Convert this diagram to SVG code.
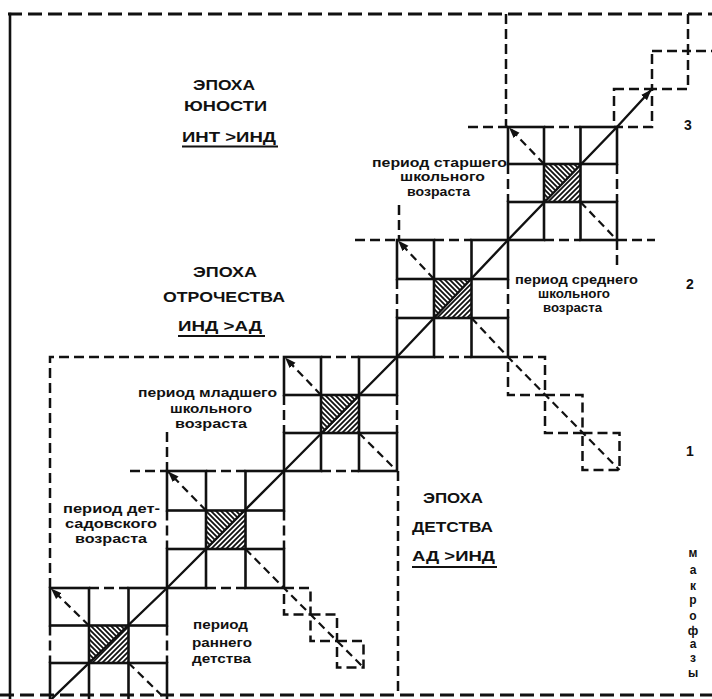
<svg xmlns="http://www.w3.org/2000/svg" width="712" height="699" viewBox="0 0 712 699">
<style>
.s{stroke:#111;stroke-width:2.6;fill:none;stroke-linecap:square}
.d{stroke:#111;stroke-width:2.5;fill:none;stroke-dasharray:10 5}
.dd{stroke:#111;stroke-width:2.2;fill:none;stroke-dasharray:8 5}
.fr{stroke:#111;stroke-width:2.8;fill:none;stroke-dasharray:14 6}
.main{stroke:#111;stroke-width:2.4;fill:none}
.c{fill:#fff}
.ha{fill:url(#hA)}
.hb{fill:url(#hB)}
text{font-family:"Liberation Sans",Arial,sans-serif;font-weight:bold;fill:#111;text-anchor:middle}
.big{font-size:14px}
.sm{font-size:12px}
.vt{font-size:12px}
.u{stroke:#111;stroke-width:2.2}
</style>
<defs>
<pattern id="hA" patternUnits="userSpaceOnUse" width="5" height="5"><path d="M-1,-1 L6,6 M-1,4 L1,6 M4,-1 L6,1" stroke="#111" stroke-width="1.8" fill="none"/></pattern>
<pattern id="hB" patternUnits="userSpaceOnUse" width="5" height="5"><path d="M-1,6 L6,-1 M-1,1 L1,-1 M4,6 L6,4" stroke="#111" stroke-width="1.8" fill="none"/></pattern>
<marker id="ah" markerUnits="userSpaceOnUse" markerWidth="12" markerHeight="10" refX="11" refY="4.5" orient="auto"><path d="M0,0.5 L11,4.5 L0,8.5 z" fill="#111"/></marker>
</defs>
<rect width="712" height="699" fill="#fff"/>

<g id="frame">
<path class="fr" d="M8,14 H712"/>
<path class="s" d="M10,14 V699"/>
<path class="fr" d="M0,695 H712"/>
</g>

<g id="guides">
<path class="d" d="M506,14 V127 M468,127 H508"/>
<path class="d" d="M399,205 V240 M355,240 H397"/>
<path class="d" d="M617,240 H655 M617,240 V268"/>
<path class="d" d="M50,588 V357 H284"/>
<path class="d" d="M167,432 V471 M130,471 H167"/>
<path class="d" d="M398,471 V695"/>
</g>

<g id="block1">
<path class="d" d="M89,588 H128.5 M50,625.5 V663 M167,625.5 V663 M89,700.5 H128.5"/>
<rect class="s" x="50" y="588" width="39" height="37.5"/>
<rect class="s" x="128.5" y="588" width="38.5" height="37.5"/>
<rect class="s" x="50" y="663" width="39" height="37.5"/>
<rect class="s" x="128.5" y="663" width="38.5" height="37.5"/>
<rect class="c" x="89" y="625.5" width="39.5" height="37.5"/>
<polygon class="ha" points="89,625.5 128.5,625.5 89,663"/>
<polygon class="hb" points="128.5,625.5 128.5,663 89,663"/>
<rect class="s" x="89" y="625.5" width="39.5" height="37.5"/>
</g>

<g id="block2">
<path class="d" d="M206,471 H245.5 M167,510.5 V549 M284,510.5 V549 M206,588 H245.5"/>
<rect class="s" x="167" y="471" width="39" height="39.5"/>
<rect class="s" x="245.5" y="471" width="38.5" height="39.5"/>
<rect class="s" x="167" y="549" width="39" height="39"/>
<rect class="s" x="245.5" y="549" width="38.5" height="39"/>
<rect class="c" x="206" y="510.5" width="39.5" height="38.5"/>
<polygon class="ha" points="206,510.5 245.5,510.5 206,549"/>
<polygon class="hb" points="245.5,510.5 245.5,549 206,549"/>
<rect class="s" x="206" y="510.5" width="39.5" height="38.5"/>
<path class="d" d="M284,588 h26.5 v26.5 h-26.5 z M310.5,614.5 h26.5 v26.5 h-26.5 z M337,641 h26.5 v26.5 h-26.5 z"/>
</g>

<g id="block3">
<path class="d" d="M321,357 H359 M284,395 V433 M397,395 V433 M321,471 H359"/>
<rect class="s" x="284" y="357" width="37" height="38"/>
<rect class="s" x="359" y="357" width="38" height="38"/>
<rect class="s" x="284" y="433" width="37" height="38"/>
<rect class="s" x="359" y="433" width="38" height="38"/>
<rect class="c" x="321" y="395" width="38" height="38"/>
<polygon class="ha" points="321,395 359,395 321,433"/>
<polygon class="hb" points="359,395 359,433 321,433"/>
<rect class="s" x="321" y="395" width="38" height="38"/>
</g>

<g id="block4">
<path class="d" d="M434,240 H471.5 M397,279 V318 M508,279 V318 M434,357 H471.5"/>
<rect class="s" x="397" y="240" width="37" height="39"/>
<rect class="s" x="471.5" y="240" width="36.5" height="39"/>
<rect class="s" x="397" y="318" width="37" height="39"/>
<rect class="s" x="471.5" y="318" width="36.5" height="39"/>
<rect class="c" x="434" y="279" width="37.5" height="39"/>
<polygon class="ha" points="434,279 471.5,279 434,318"/>
<polygon class="hb" points="471.5,279 471.5,318 434,318"/>
<rect class="s" x="434" y="279" width="37.5" height="39"/>
<path class="d" d="M508,357 h37 v38 h-37 z M545,395 h37.5 v38 h-37.5 z M582.5,433 h37 v37 h-37 z"/>
</g>

<g id="block5">
<path class="d" d="M544,127 H580.5 M508,164 V202 M617,164 V202 M544,240 H580.5"/>
<rect class="s" x="508" y="127" width="36" height="37"/>
<rect class="s" x="580.5" y="127" width="36.5" height="37"/>
<rect class="s" x="508" y="202" width="36" height="38"/>
<rect class="s" x="580.5" y="202" width="36.5" height="38"/>
<rect class="c" x="544" y="164" width="36.5" height="38"/>
<polygon class="ha" points="544,164 580.5,164 544,202"/>
<polygon class="hb" points="580.5,164 580.5,202 544,202"/>
<rect class="s" x="544" y="164" width="36.5" height="38"/>
<path class="d" d="M614,89 h38 v38 h-38 z M652,51 h36 v38 h-36 z M688,14 V51 H712"/>
</g>

<g id="connectors">
<polyline class="main" points="50,700.5 167,588 284,471 397,357 508,240 617,127 651.5,89.5" marker-end="url(#ah)"/>
<path class="dd" d="M89,625.5 L51,588.5" marker-end="url(#ah)"/>
<path class="dd" d="M128.5,663 L167,700.5"/>
<path class="dd" d="M206,510.5 L168,471.5" marker-end="url(#ah)"/>
<path class="dd" d="M245.5,549 L284,588 L363.5,667.5"/>
<path class="dd" d="M321,395 L285,357.5" marker-end="url(#ah)"/>
<path class="dd" d="M359,433 L397,471"/>
<path class="dd" d="M434,279 L398,240.5" marker-end="url(#ah)"/>
<path class="dd" d="M471.5,318 L508,357 L619.5,470"/>
<path class="dd" d="M544,164 L509,127.5" marker-end="url(#ah)"/>
<path class="dd" d="M580.5,202 L617,240"/>
</g>

<g id="labels">
<text class="big" x="224" y="90" textLength="62" lengthAdjust="spacingAndGlyphs">ЭПОХА</text>
<text class="big" x="225.5" y="111" textLength="83" lengthAdjust="spacingAndGlyphs">ЮНОСТИ</text>
<text class="big" x="229" y="142" textLength="94" lengthAdjust="spacingAndGlyphs">ИНТ &gt;ИНД</text>
<line class="u" x1="182" y1="146.5" x2="278" y2="146.5"/>

<text class="big" x="225" y="277" textLength="64" lengthAdjust="spacingAndGlyphs">ЭПОХА</text>
<text class="big" x="224" y="302" textLength="122" lengthAdjust="spacingAndGlyphs">ОТРОЧЕСТВА</text>
<text class="big" x="220" y="331" textLength="84" lengthAdjust="spacingAndGlyphs">ИНД &gt;АД</text>
<line class="u" x1="178" y1="336" x2="265" y2="336"/>

<text class="big" x="453" y="503" textLength="60" lengthAdjust="spacingAndGlyphs">ЭПОХА</text>
<text class="big" x="452.5" y="532" textLength="81" lengthAdjust="spacingAndGlyphs">ДЕТСТВА</text>
<text class="big" x="453.5" y="561" textLength="83" lengthAdjust="spacingAndGlyphs">АД &gt;ИНД</text>
<line class="u" x1="412" y1="567" x2="497" y2="567"/>

<text class="sm" x="439.5" y="167" textLength="135" lengthAdjust="spacingAndGlyphs">период старшего</text>
<text class="sm" x="442.5" y="181" textLength="85" lengthAdjust="spacingAndGlyphs">школьного</text>
<text class="sm" x="438.5" y="196" textLength="63" lengthAdjust="spacingAndGlyphs">возраста</text>

<text class="sm" x="576.5" y="284" textLength="123" lengthAdjust="spacingAndGlyphs">период среднего</text>
<text class="sm" x="574" y="298" textLength="72" lengthAdjust="spacingAndGlyphs">школьного</text>
<text class="sm" x="572.5" y="312" textLength="59" lengthAdjust="spacingAndGlyphs">возраста</text>

<text class="sm" x="207.5" y="397" textLength="139" lengthAdjust="spacingAndGlyphs">период младшего</text>
<text class="sm" x="211" y="413" textLength="82" lengthAdjust="spacingAndGlyphs">школьного</text>
<text class="sm" x="211" y="428" textLength="72" lengthAdjust="spacingAndGlyphs">возраста</text>

<text class="sm" x="111.5" y="513" textLength="97" lengthAdjust="spacingAndGlyphs">период дет-</text>
<text class="sm" x="111" y="528" textLength="92" lengthAdjust="spacingAndGlyphs">садовского</text>
<text class="sm" x="111" y="543" textLength="72" lengthAdjust="spacingAndGlyphs">возраста</text>

<text class="sm" x="220.5" y="629" textLength="55" lengthAdjust="spacingAndGlyphs">период</text>
<text class="sm" x="222" y="647" textLength="60" lengthAdjust="spacingAndGlyphs">раннего</text>
<text class="sm" x="221.5" y="663" textLength="59" lengthAdjust="spacingAndGlyphs">детства</text>

<text class="big" x="688" y="130">3</text>
<text class="big" x="690" y="289">2</text>
<text class="big" x="690" y="456">1</text>

<text class="vt" x="693" y="557">м</text>
<text class="vt" x="693" y="574">а</text>
<text class="vt" x="693" y="590">к</text>
<text class="vt" x="693" y="604">р</text>
<text class="vt" x="693" y="620">о</text>
<text class="vt" x="693" y="635">ф</text>
<text class="vt" x="693" y="648">а</text>
<text class="vt" x="693" y="662">з</text>
<text class="vt" x="693" y="677">ы</text>
</g>
</svg>
